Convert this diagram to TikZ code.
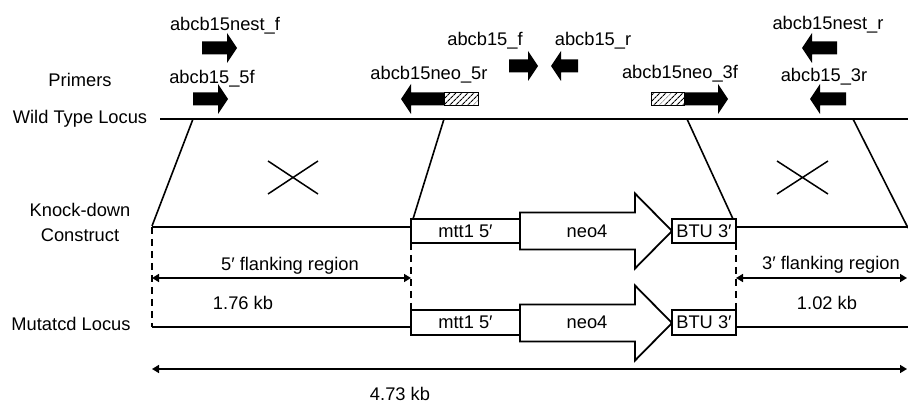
\documentclass[tikz,border=0pt]{standalone}
\usepackage{fontspec}
\setmainfont{Liberation Sans}
\usetikzlibrary{arrows.meta,patterns.meta}

% primer arrow pointing right: tail x, tip x, centre y
\newcommand{\primerR}[3]{%
  \fill (#1,#3-6.5) -- (#2-10,#3-6.5) -- (#2-10,#3-15) -- (#2,#3)
        -- (#2-10,#3+15) -- (#2-10,#3+6.5) -- (#1,#3+6.5) -- cycle;}
% primer arrow pointing left: tip x, tail x, centre y
\newcommand{\primerL}[3]{%
  \fill (#2,#3-6.5) -- (#1+10,#3-6.5) -- (#1+10,#3-15) -- (#1,#3)
        -- (#1+10,#3+15) -- (#1+10,#3+6.5) -- (#2,#3+6.5) -- cycle;}
% hatched tag on a primer: left x, right x, centre y
\newcommand{\primertag}[3]{%
  \fill[white] (#1,#3-6.5) rectangle (#2,#3+6.5);
  \fill[pattern={Lines[angle=45,distance=4pt,line width=1.1pt]}] (#1,#3-6.5) rectangle (#2,#3+6.5);
  \draw[line width=0.9pt] (#1,#3-6.5) rectangle (#2,#3+6.5);}
% neo4 cassette arrow: left x, tip x, centre y
\newcommand{\cassette}[3]{%
  \draw[line width=1.8pt, fill=white, line join=miter]
    (#1,#3-18.5) -- (#2-37,#3-18.5) -- (#2-37,#3-37.5) -- (#2,#3)
    -- (#2-37,#3+37.5) -- (#2-37,#3+18.5) -- (#1,#3+18.5) -- cycle;}

\begin{document}
\begin{tikzpicture}[x=1pt,y=-1pt,
  lbl/.style={font=\fontsize{18.3}{20}\selectfont, inner sep=0pt, anchor=base},
  locus/.style={line width=1.8pt},
  slant/.style={line width=1.6pt},
  crossline/.style={line width=1.5pt},
  guide/.style={line width=1.6pt, dash pattern=on 7pt off 5pt},
  dim/.style={line width=1.6pt, {Triangle[length=7pt,width=8pt]}-{Triangle[length=7pt,width=8pt]}},
  seg/.style={draw, line width=1.8pt, fill=white, inner sep=0pt,
    text height=13pt, text depth=0pt, font=\fontsize{18.3}{20}\selectfont}]
\useasboundingbox (0,0) rectangle (908,403);

% ---- row labels ----
\node[lbl] (tPrim) at (80,87) {Primers};
\node[lbl] (tWT) at (80,123.5) {Wild Type Locus};
\node[lbl] (tKD1) at (80,217) {Knock-down};
\node[lbl] (tKD2) at (80,242) {Construct};
\node[lbl] (tMut) at (71,331) {Mutatcd Locus};

% ---- primers ----
\node[lbl] (pNestF) at (225,31) {abcb15nest\_f};
\primerR{202}{237}{48}
\node[lbl] (p5F) at (212,84) {abcb15\_5f};
\primerR{193}{228}{99}
\node[lbl] (pF) at (485,46) {abcb15\_f};
\primerR{509}{538}{66}
\node[lbl] (pR) at (593,46) {abcb15\_r};
\primerL{551}{578}{66}
\node[lbl] (pNeo5R) at (429,80) {abcb15neo\_5r};
\primerL{401}{478}{99}
\primertag{444}{478}{99}
\node[lbl] (pNeo3F) at (680,79) {abcb15neo\_3f};
\primerR{651}{728}{99}
\primertag{651}{684}{99}
\node[lbl] (pNestR) at (828,30) {abcb15nest\_r};
\primerL{802}{837}{48}
\node[lbl] (p3R) at (824,82) {abcb15\_3r};
\primerL{810}{846}{99}

% ---- wild type locus ----
\coordinate (wtL) at (160,119);
\coordinate (wtR) at (908,119);
\draw[locus] (wtL) -- (wtR);

% ---- knock-down construct ----
\coordinate (kdL) at (152,227);
\coordinate (kdA) at (411,227);
\coordinate (kdB) at (736,227);
\coordinate (kdR) at (908,227);
\draw[locus] (kdL) -- (kdA);
\draw[locus] (kdB) -- (kdR);
\node[seg, minimum width=109pt, minimum height=24pt] (kdMtt) at (465.5,231) {mtt1 5′};
\cassette{520}{672}{231}
\node[lbl] (kdNeo) at (587,238) {neo4};
\node[seg, minimum width=64pt, minimum height=24pt] (kdBtu) at (704,231) {BTU 3′};

% ---- homologous recombination ----
\coordinate (h1a) at (193,119); \coordinate (h1b) at (152,226);
\coordinate (h2a) at (444,119); \coordinate (h2b) at (413,219);
\coordinate (h3a) at (687,119); \coordinate (h3b) at (733,219);
\coordinate (h4a) at (853,119); \coordinate (h4b) at (908,228);
\draw[slant] (h1a) -- (h1b);
\draw[slant] (h2a) -- (h2b);
\draw[slant] (h3a) -- (h3b);
\draw[slant] (h4a) -- (h4b);
\coordinate (x1a) at (268,161); \coordinate (x1b) at (318,194);
\coordinate (x1c) at (268,194); \coordinate (x1d) at (318,161);
\draw[crossline] (x1a) -- (x1b) (x1c) -- (x1d);
\coordinate (x2a) at (777,161); \coordinate (x2b) at (828,194);
\coordinate (x2c) at (777,194); \coordinate (x2d) at (828,161);
\draw[crossline] (x2a) -- (x2b) (x2c) -- (x2d);

% ---- mutated locus ----
\coordinate (muL) at (152,327);
\coordinate (muA) at (411,327);
\coordinate (muB) at (736,327);
\coordinate (muR) at (908,327);
\draw[locus] (muL) -- (muA);
\draw[locus] (muB) -- (muR);
\node[seg, minimum width=109pt, minimum height=25pt] (muMtt) at (465.5,322.5) {mtt1 5′};
\cassette{520}{672}{323}
\node[lbl] (muNeo) at (587,329) {neo4};
\node[seg, minimum width=64pt, minimum height=25pt] (muBtu) at (704,322.5) {BTU 3′};

% ---- guides and sizes ----
\coordinate (g5a) at (411,243); \coordinate (g5b) at (411,310);
\coordinate (g3a) at (736,243); \coordinate (g3b) at (736,310);
\draw[guide] (kdL) -- (muL);
\draw[guide] (g5a) -- (g5b);
\draw[guide] (g3a) -- (g3b);

\coordinate (d5L) at (152,278); \coordinate (d5R) at (411,278);
\draw[dim] (d5L) -- (d5R);
\node[lbl] (t5flank) at (290,271) {5′ flanking region};
\node[lbl] (t5kb) at (243,310) {1.76 kb};

\coordinate (d3L) at (736,278); \coordinate (d3R) at (907,278);
\draw[dim] (d3L) -- (d3R);
\node[lbl] (t3flank) at (831,270) {3′ flanking region};
\node[lbl] (t3kb) at (827,310) {1.02 kb};

\coordinate (dtL) at (152,369); \coordinate (dtR) at (907,369);
\draw[dim] (dtL) -- (dtR);
\node[lbl] (ttot) at (400,400) {4.73 kb};
\end{tikzpicture}
\end{document}
